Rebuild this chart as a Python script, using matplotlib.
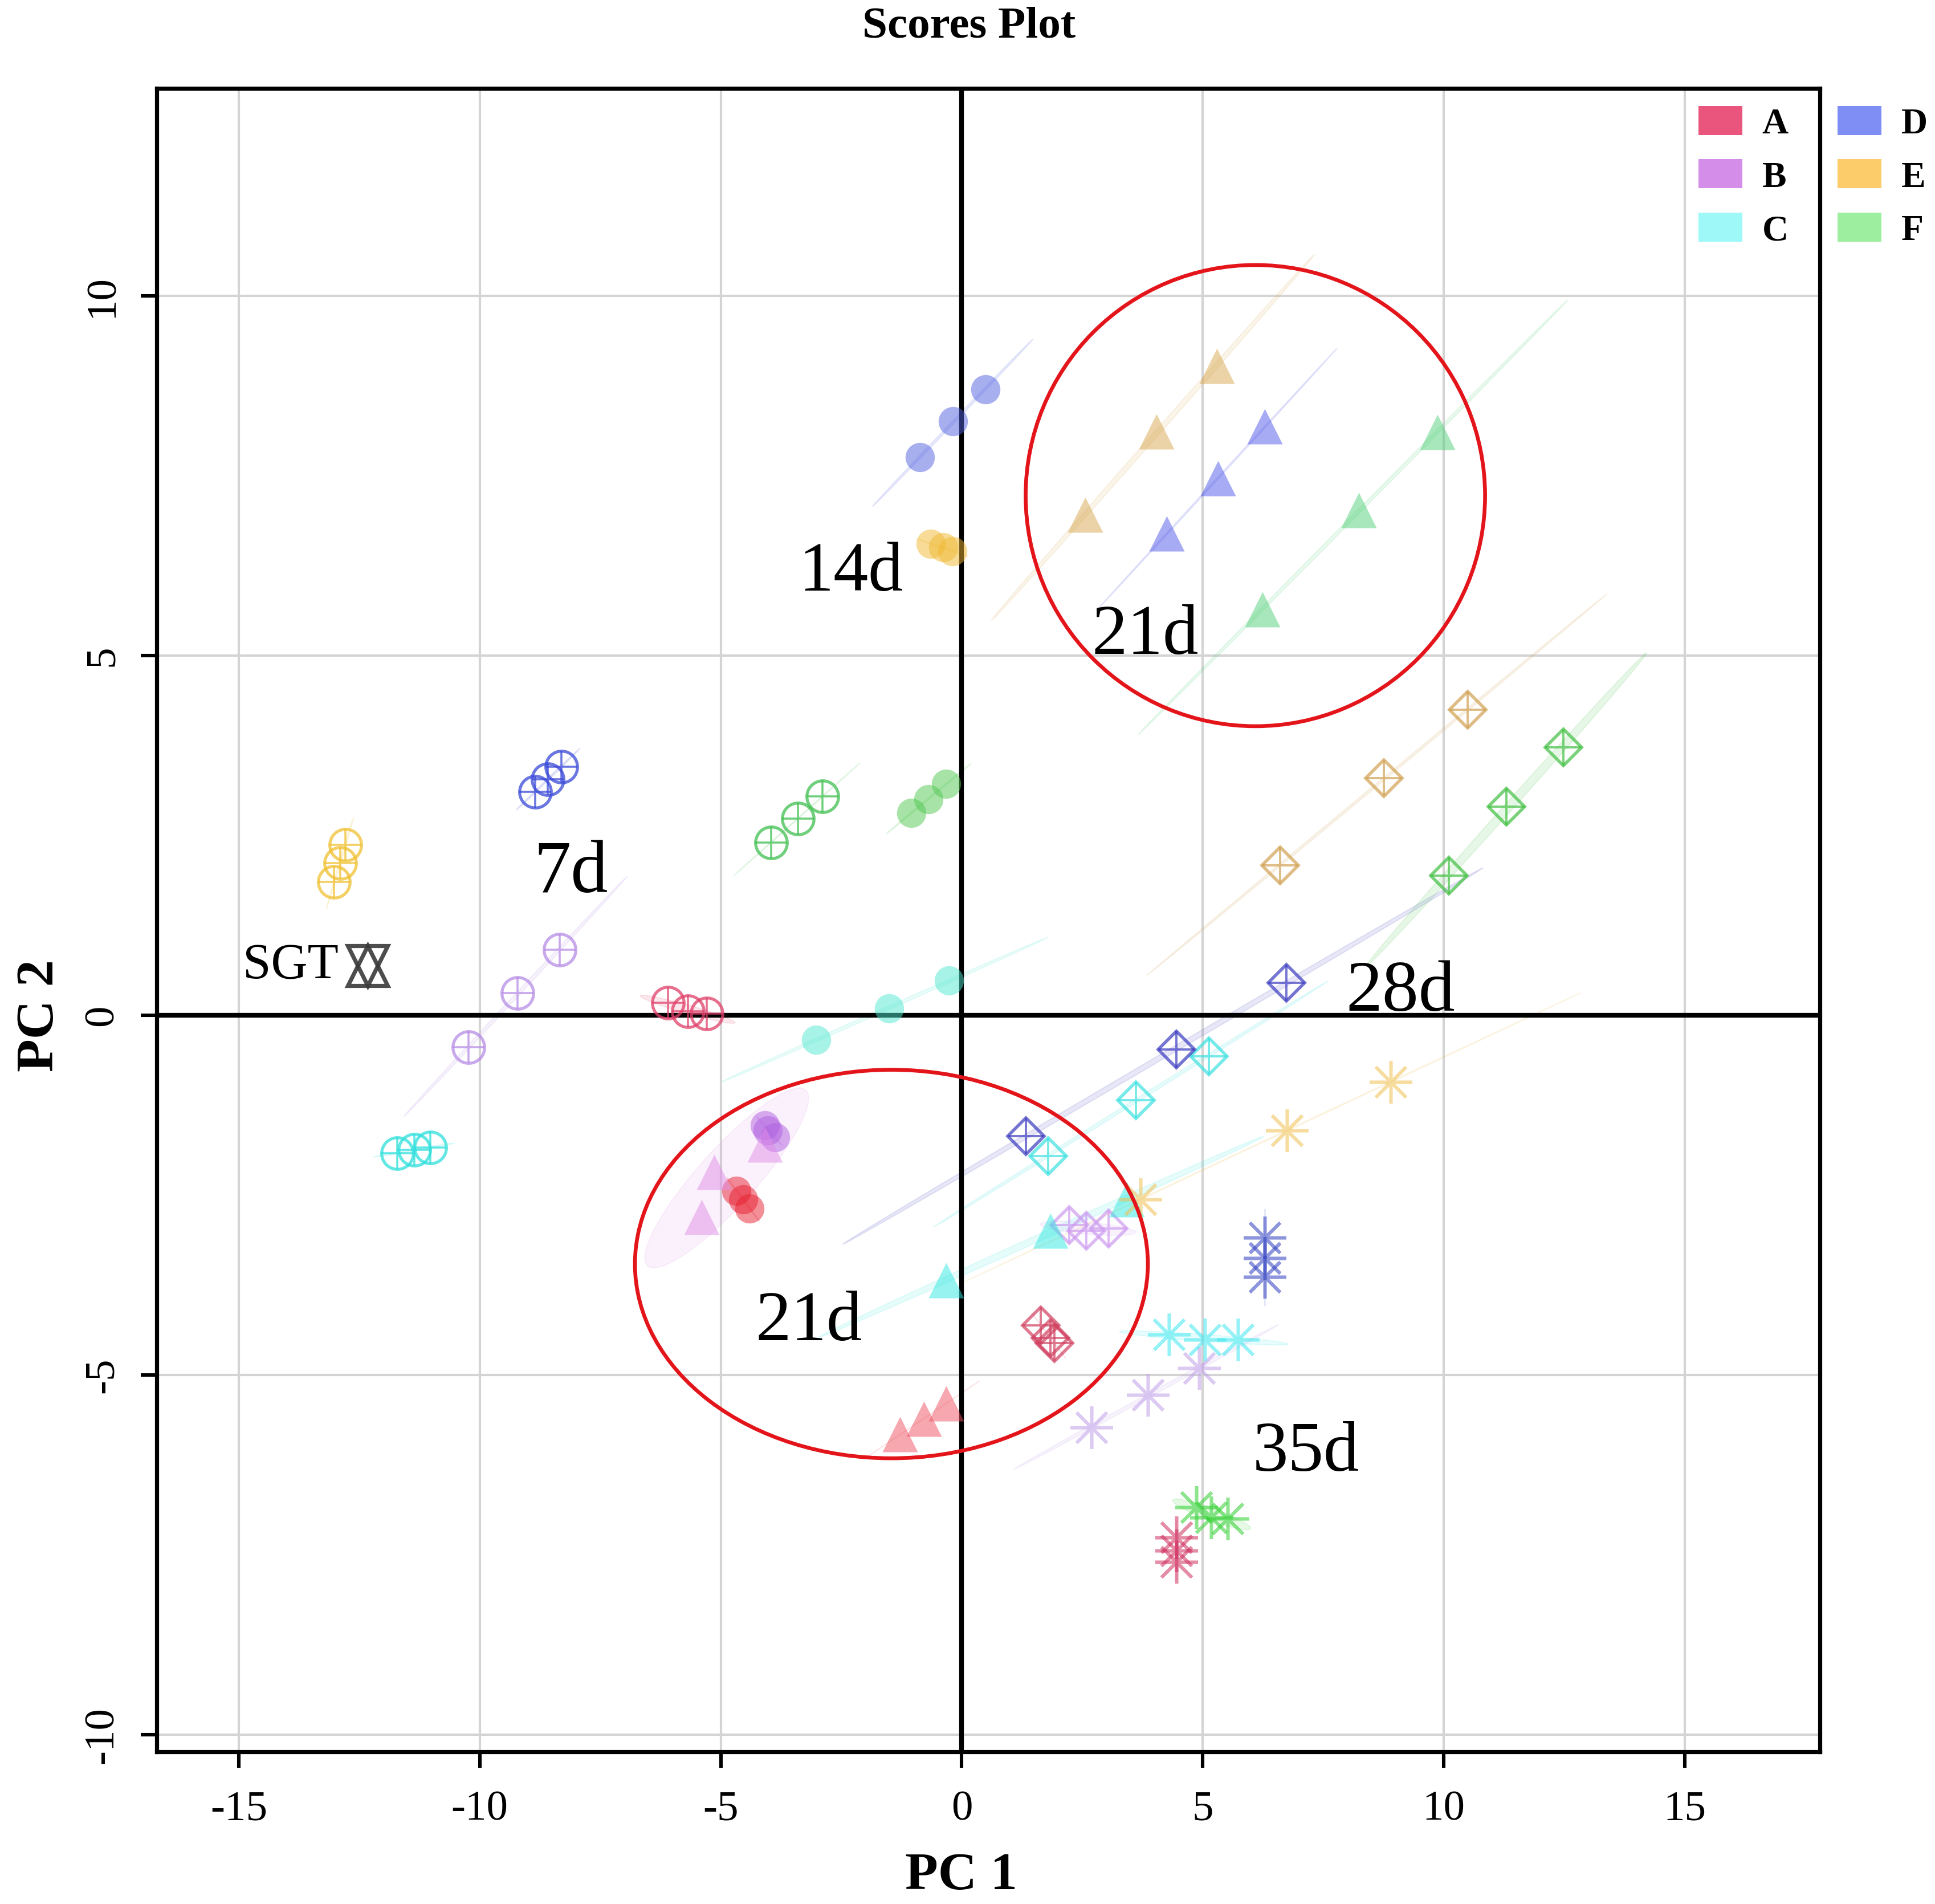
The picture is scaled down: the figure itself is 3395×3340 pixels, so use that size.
import numpy as np
import matplotlib
matplotlib.use('Agg')
import matplotlib.pyplot as plt
from matplotlib.patches import Ellipse, Patch

plt.rcParams['font.family'] = ['Liberation Serif', 'DejaVu Serif']
plt.rcParams['axes.unicode_minus'] = False

groups = ['A', 'B', 'C', 'D', 'E', 'F']
legend_colors = ['#E9557D', '#D48EE9', '#9EF8F8', '#7F8EF4', '#FCCB6A', '#9DEE9E']

# marker colours per sampling day (groups A..F)
colors_7d = ['#E0406A', '#B68CE6', '#2EE0DC', '#3A4AD8', '#F0C030', '#40C050']
colors_14d = ['#E82030', '#B060E0', '#50E8D0', '#5060E0', '#F0B830', '#50C850']
colors_21d = ['#EE5060', '#E08EE8', '#30E8E0', '#5058E8', '#D8A850', '#50D078']
colors_28d = ['#D04060', '#CE9CF0', '#3CE0E0', '#3A3AC0', '#D0A050', '#40C040']
colors_35d = ['#D03060', '#C0A0E8', '#40E8F0', '#3040C0', '#F0C050', '#30D030']

# scores per sampling day, one row per group (A..F), three replicates each
pc1_7d = [[-6.09, -5.68, -5.29], [-10.23, -9.21, -8.34], [-11.71, -11.36, -11.02],
          [-8.85, -8.59, -8.31], [-13.02, -12.89, -12.79], [-3.96, -3.40, -2.89]]
pc2_7d = [[0.17, 0.05, 0.02], [-0.45, 0.31, 0.91], [-1.92, -1.87, -1.84],
          [3.10, 3.28, 3.45], [1.85, 2.11, 2.37], [2.40, 2.73, 3.04]]

pc1_14d = [[-4.68, -4.53, -4.40], [-4.09, -4.02, -3.87], [-3.02, -1.51, -0.26],
           [-0.87, -0.18, 0.49], [-0.64, -0.38, -0.20], [-1.05, -0.69, -0.33]]
pc2_14d = [[-2.44, -2.56, -2.69], [-1.53, -1.60, -1.70], [-0.34, 0.09, 0.48],
           [7.75, 8.25, 8.70], [6.55, 6.50, 6.45], [2.81, 3.00, 3.21]]

pc1_21d = [[-1.28, -0.79, -0.33], [-5.40, -5.14, -4.09], [-0.33, 1.84, 3.42],
           [4.25, 5.32, 6.29], [2.56, 4.04, 5.29], [6.24, 8.24, 9.87]]
pc2_21d = [[-5.83, -5.61, -5.40], [-2.81, -2.18, -1.80], [-3.69, -3.00, -2.56],
           [6.69, 7.46, 8.18], [6.95, 8.11, 9.02], [5.64, 7.02, 8.10]]

pc1_28d = [[1.64, 1.84, 1.92], [2.23, 2.58, 3.04], [1.79, 3.61, 5.12],
           [1.33, 4.45, 6.73], [6.60, 8.75, 10.49], [10.10, 11.30, 12.48]]
pc2_28d = [[-4.31, -4.49, -4.56], [-2.92, -3.00, -2.97], [-1.96, -1.18, -0.57],
           [-1.68, -0.48, 0.45], [2.08, 3.29, 4.24], [1.94, 2.90, 3.72]]

pc1_35d = [[4.45, 4.45, 4.45], [2.69, 3.86, 4.93], [4.30, 5.04, 5.73],
           [6.29, 6.29, 6.29], [3.71, 6.75, 8.90], [4.86, 5.17, 5.52]]
pc2_35d = [[-7.26, -7.44, -7.60], [-5.73, -5.28, -4.91], [-4.44, -4.51, -4.51],
           [-3.09, -3.38, -3.64], [-2.56, -1.60, -0.93], [-6.84, -6.98, -7.00]]

sgt_pc1 = [-12.33]
sgt_pc2 = [0.69]

day_labels = ['7d', '14d', '21d', '21d', '28d', '35d']
day_label_x = [-8.11, -2.30, 3.81, -3.17, 9.10, 7.14]
day_label_y = [1.97, 6.14, 5.27, -4.27, 0.31, -6.09]

# red highlight rings: centre x, centre y, width, height (data units)
ring_x = [6.09, -1.46]
ring_y = [7.22, -3.46]
ring_w = [9.53, 10.64]
ring_h = [6.41, 5.40]


def conf_ellipse(ax, xs, ys, color, k=2.45):
    xs = np.asarray(xs)
    ys = np.asarray(ys)
    cov = np.cov(xs, ys)
    vals, vecs = np.linalg.eigh(cov)
    vals = np.clip(vals, 1e-6, None)
    angle = np.degrees(np.arctan2(vecs[1, 1], vecs[0, 1]))
    e = Ellipse((xs.mean(), ys.mean()), 2 * k * np.sqrt(vals[1]), 2 * k * np.sqrt(vals[0]),
                angle=angle, facecolor=color, edgecolor=color, alpha=0.12, lw=0.7, zorder=1.5)
    ax.add_patch(e)


fig = plt.figure(figsize=(16.975, 16.705), dpi=200)
ax = fig.add_axes([0.0810, 0.0799, 0.8595, 0.8734])

ax.set_xlim(-16.7, 17.8)
ax.set_ylim(-10.24, 12.88)
ax.set_xticks([-15, -10, -5, 0, 5, 10, 15])
ax.set_yticks([-10, -5, 0, 5, 10])
ax.grid(True, color='#d4d4d4', lw=1.5, zorder=0)
ax.set_axisbelow(True)
ax.axhline(0, color='black', lw=3.0, zorder=2)
ax.axvline(0, color='black', lw=3.0, zorder=2)

for sp in ax.spines.values():
    sp.set_linewidth(2.6)

days_x = [pc1_7d, pc1_14d, pc1_21d, pc1_28d, pc1_35d]
days_y = [pc2_7d, pc2_14d, pc2_21d, pc2_28d, pc2_35d]
days_c = [colors_7d, colors_14d, colors_21d, colors_28d, colors_35d]
for dx, dy, dc in zip(days_x, days_y, days_c):
    for i in range(len(groups)):
        conf_ellipse(ax, dx[i], dy[i], dc[i])

for i, g in enumerate(groups):
    # 7d: open circle with cross
    c = colors_7d[i]
    ax.plot(pc1_7d[i], pc2_7d[i], ls='none', marker='o', ms=20, mfc='none', mec=c,
            mew=1.9, alpha=0.75, zorder=3)
    ax.plot(pc1_7d[i], pc2_7d[i], ls='none', marker='+', ms=20, mec=c,
            mew=1.3, alpha=0.75, zorder=3)
    # 14d: filled circle
    c = colors_14d[i]
    ax.plot(pc1_14d[i], pc2_14d[i], ls='none', marker='o', ms=18.5, color=c,
            mec='none', alpha=0.5, zorder=3)
    # 21d: filled triangle
    c = colors_21d[i]
    ax.plot(pc1_21d[i], pc2_21d[i], ls='none', marker='^', ms=22, color=c,
            mec='none', alpha=0.5, zorder=3)
    # 28d: open diamond with cross
    c = colors_28d[i]
    ax.plot(pc1_28d[i], pc2_28d[i], ls='none', marker='D', ms=16.5, mfc='none', mec=c,
            mew=2.0, alpha=0.7, zorder=3)
    ax.plot(pc1_28d[i], pc2_28d[i], ls='none', marker='+', ms=23, mec=c,
            mew=1.4, alpha=0.7, zorder=3)
    # 35d: asterisk
    c = colors_35d[i]
    ax.plot(pc1_35d[i], pc2_35d[i], ls='none', marker=(8, 2, 0), ms=27, mec=c,
            mew=2.0, alpha=0.55, zorder=3)

ax.plot(sgt_pc1, sgt_pc2, ls='none', marker='^', ms=25, mfc='none', mec='#3a3a3a',
        mew=2.6, alpha=0.9, zorder=3)
ax.plot(sgt_pc1, sgt_pc2, ls='none', marker='v', ms=25, mfc='none', mec='#3a3a3a',
        mew=2.6, alpha=0.9, zorder=3)
ax.text(sgt_pc1[0] - 0.6, sgt_pc2[0], 'SGT', fontsize=32, ha='right', va='center', zorder=4)

label_sizes = [47, 44, 45, 45, 46, 45]
for lab, lx, ly, fs in zip(day_labels, day_label_x, day_label_y, label_sizes):
    ax.text(lx, ly, lab, fontsize=fs, ha='center', va='center', zorder=4)

for cx, cy, w, h in zip(ring_x, ring_y, ring_w, ring_h):
    ax.add_patch(Ellipse((cx, cy), w, h, fill=False, edgecolor='#E3151B', lw=2.4, zorder=5))

ax.tick_params(axis='both', direction='out', length=10, width=2.2, labelsize=27)
ax.tick_params(axis='x', pad=14)
ax.tick_params(axis='y', pad=12, labelrotation=90)
for lab in ax.get_yticklabels():
    lab.set_va('center')

ax.set_xlabel('PC 1', fontsize=34, fontweight='bold', va='center')
ax.xaxis.set_label_coords(0.4837, -0.0744)
ax.set_ylabel('PC 2', fontsize=34, fontweight='bold', va='center')
ax.yaxis.set_label_coords(-0.070, 0.443)

fig.text(0.5007, 0.9858, 'Scores Plot', fontsize=28.5, fontweight='bold', ha='center', va='center')

handles = [Patch(facecolor=legend_colors[i], edgecolor='none') for i in range(len(groups))]
ax.legend(handles, groups, ncol=2, loc='upper left', bbox_to_anchor=(0.927, 0.9895),
          frameon=False, prop={'family': 'Liberation Serif', 'weight': 'bold', 'size': 23},
          handlelength=1.2, handleheight=0.85, handletextpad=0.55, columnspacing=1.35,
          labelspacing=0.5, borderpad=0, borderaxespad=0)

fig.savefig('out.png', dpi=200)
